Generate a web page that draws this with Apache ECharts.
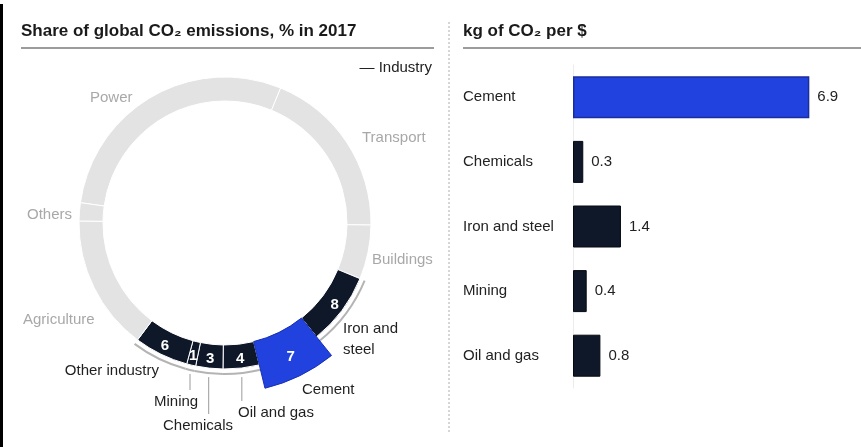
<!DOCTYPE html>
<html>
<head>
<meta charset="utf-8">
<script src="https://cdn.jsdelivr.net/npm/echarts@6/dist/echarts.min.js"></script>
<style>
  html, body { margin: 0; padding: 0; background: #fff; }
  #c { width: 861px; height: 447px; }
</style>
</head>
<body>
<div id="c"></div>
<script>
// Share of global CO2 emissions by sector, % in 2017 (clockwise from Power)
const sectors = ['Power', 'Transport', 'Buildings', 'Iron and steel', 'Cement', 'Oil and gas',
                 'Chemicals', 'Mining', 'Other industry', 'Agriculture', 'Others'];
const shares = [29, 19, 6, 8, 7, 4, 3, 1, 6, 15, 2];
const industrySectors = ['Iron and steel', 'Cement', 'Oil and gas', 'Chemicals', 'Mining', 'Other industry'];
const highlighted = 'Cement';

// Emission intensity, kg of CO2 per $ of output
const intensityCats = ['Cement', 'Chemicals', 'Iron and steel', 'Mining', 'Oil and gas'];
const intensityVals = [6.9, 0.3, 1.4, 0.4, 0.8];

// Sector names that get a vertical leader line under the ring
const leaderSectors = ['Mining', 'Chemicals', 'Oil and gas'];

// Where each sector name sits around the ring: [x, y, align]
const nameLabelAt = {
  'Power': [90, 98, 'left'],
  'Transport': [362, 138, 'left'],
  'Buildings': [372, 260, 'left'],
  'Iron and steel': [343, 339, 'left'],
  'Cement': [302, 390, 'left'],
  'Oil and gas': [238, 413, 'left'],
  'Chemicals': [163, 426, 'left'],
  'Mining': [154, 402, 'left'],
  'Other industry': [159, 371, 'right'],
  'Agriculture': [23, 320, 'left'],
  'Others': [27, 215, 'left']
};

const FONT = 'Liberation Sans, Arial, sans-serif';
const DARK = '#0e1828';
const BLUE = '#2242e0';
const RING_GREY = '#e3e3e3';

// Ring geometry
const CX = 225, CY = 223, R_IN = 122, R_OUT = 146, R_HI = 170, R_ARC = 151;
const START = 172;
const total = shares.reduce((a, b) => a + b, 0);
function midAngle(i) {
  let before = 0;
  for (let k = 0; k < i; k++) before += shares[k];
  return (START - (before + shares[i] / 2) / total * 360) * Math.PI / 180;
}
const isIndustry = n => industrySectors.indexOf(n) >= 0;

const chart = echarts.init(document.getElementById('c'), null, { renderer: 'canvas' });

const ringData = sectors.map((n, i) => ({
  name: n,
  value: shares[i],
  itemStyle: { color: n === highlighted ? BLUE : (isIndustry(n) ? DARK : RING_GREY) },
  label: { show: isIndustry(n) && n !== highlighted }
}));

const highlightData = sectors.map((n, i) => ({
  name: n,
  value: shares[i],
  itemStyle: n === highlighted
    ? { color: BLUE, borderColor: '#1730b0', borderWidth: 1 }
    : { color: 'rgba(0,0,0,0)', borderWidth: 0 },
  label: { show: n === highlighted }
}));

const bracketData = sectors.map((n, i) => ({
  name: n,
  value: shares[i],
  itemStyle: { color: isIndustry(n) ? '#b4b4b4' : 'rgba(0,0,0,0)' },
  label: { color: isIndustry(n) ? '#1f1f1f' : '#a8a8a8' },
  labelLine: { show: leaderSectors.indexOf(n) >= 0 }
}));

const option = {
  animation: false,
  textStyle: { fontFamily: FONT },
  graphic: [
    // frame edge on the left
    { type: 'rect', shape: { x: 0, y: 4, width: 3, height: 443 }, style: { fill: '#000' }, silent: true },
    // panel titles
    { type: 'text', x: 21, y: 31, silent: true,
      style: { text: 'Share of global CO\u2082 emissions, % in 2017', font: 'bold 17px ' + FONT,
               fill: '#1a1a1a', verticalAlign: 'middle' } },
    { type: 'rect', shape: { x: 21, y: 47, width: 413, height: 2 }, style: { fill: '#9c9c9c' }, silent: true },
    { type: 'text', x: 463, y: 31, silent: true,
      style: { text: 'kg of CO\u2082 per $', font: 'bold 17px ' + FONT, fill: '#1a1a1a', verticalAlign: 'middle' } },
    { type: 'rect', shape: { x: 463, y: 47, width: 398, height: 2 }, style: { fill: '#9c9c9c' }, silent: true },
    // dotted divider between panels
    { type: 'line', shape: { x1: 449, y1: 22, x2: 449, y2: 433 }, silent: true,
      style: { stroke: '#d6d6d6', lineWidth: 2, lineDash: [2, 2] } },
    // key for the industry bracket
    { type: 'text', x: 432, y: 68, silent: true,
      style: { text: '\u2014 Industry', font: '15px ' + FONT, fill: '#222', align: 'right', verticalAlign: 'middle' } }
  ],
  grid: { left: 573, right: 14, top: 65, bottom: 59 },
  xAxis: { type: 'value', min: 0, max: 8, show: false },
  yAxis: {
    type: 'category',
    data: intensityCats,
    inverse: true,
    axisTick: { show: false },
    axisLine: { show: true, lineStyle: { color: '#ececec', width: 1 } },
    axisLabel: { align: 'left', margin: 110, fontSize: 15, color: '#222', fontFamily: FONT }
  },
  series: [
    {
      type: 'bar',
      data: intensityVals.map((v, i) => ({
        value: v,
        itemStyle: intensityCats[i] === highlighted
          ? { color: BLUE, borderColor: '#1a2d9c', borderWidth: 1.5 }
          : { color: DARK, borderColor: '#050a12', borderWidth: 1 }
      })),
      barWidth: 42,
      silent: true,
      label: {
        show: true, position: 'right', distance: 8, fontSize: 15, color: '#222', fontFamily: FONT,
        formatter: p => p.value.toFixed(1)
      }
    },
    {
      // main ring; industry shares printed inside
      type: 'pie',
      center: [CX, CY],
      radius: [R_IN, R_OUT],
      startAngle: START,
      clockwise: true,
      avoidLabelOverlap: false,
      silent: true,
      z: 2,
      itemStyle: { borderColor: '#fff', borderWidth: 1 },
      label: { position: 'inside', formatter: '{c}', color: '#fff', fontSize: 15, fontWeight: 'bold', fontFamily: FONT },
      labelLine: { show: false },
      data: ringData
    },
    {
      // thin bracket under the industry sectors, carrying the sector names
      type: 'pie',
      center: [CX, CY],
      radius: [R_ARC - 1, R_ARC + 1],
      startAngle: START,
      clockwise: true,
      avoidLabelOverlap: false,
      silent: true,
      z: 3,
      itemStyle: { borderWidth: 0 },
      label: { show: true, position: 'outside', fontSize: 15, lineHeight: 21, fontFamily: FONT,
               formatter: p => p.name === 'Iron and steel' ? 'Iron and\nsteel' : p.name },
      labelLine: { show: false, lineStyle: { color: '#9a9a9a', width: 1 } },
      labelLayout: function (p) {
        const name = sectors[p.dataIndex];
        const pos = nameLabelAt[name];
        const out = { x: pos[0], y: pos[1], align: pos[2], verticalAlign: 'middle' };
        if (leaderSectors.indexOf(name) >= 0) {
          const a = midAngle(p.dataIndex);
          const x = CX + R_ARC * Math.cos(a);
          const dx = x - CX;
          const y0 = CY + Math.sqrt((R_ARC + 4) * (R_ARC + 4) - dx * dx);
          out.labelLinePoints = [[x, y0], [x, pos[1] - 12], [x, pos[1] - 12]];
        }
        return out;
      },
      data: bracketData
    },
    {
      // highlighted sector drawn proud of the ring
      type: 'pie',
      center: [CX, CY],
      radius: [R_IN, R_HI],
      startAngle: START,
      clockwise: true,
      avoidLabelOverlap: false,
      silent: true,
      z: 4,
      label: { position: 'inside', formatter: '{c}', color: '#fff', fontSize: 15, fontWeight: 'bold', fontFamily: FONT },
      labelLine: { show: false },
      data: highlightData
    }
  ]
};

chart.setOption(option);
</script>
</body>
</html>
